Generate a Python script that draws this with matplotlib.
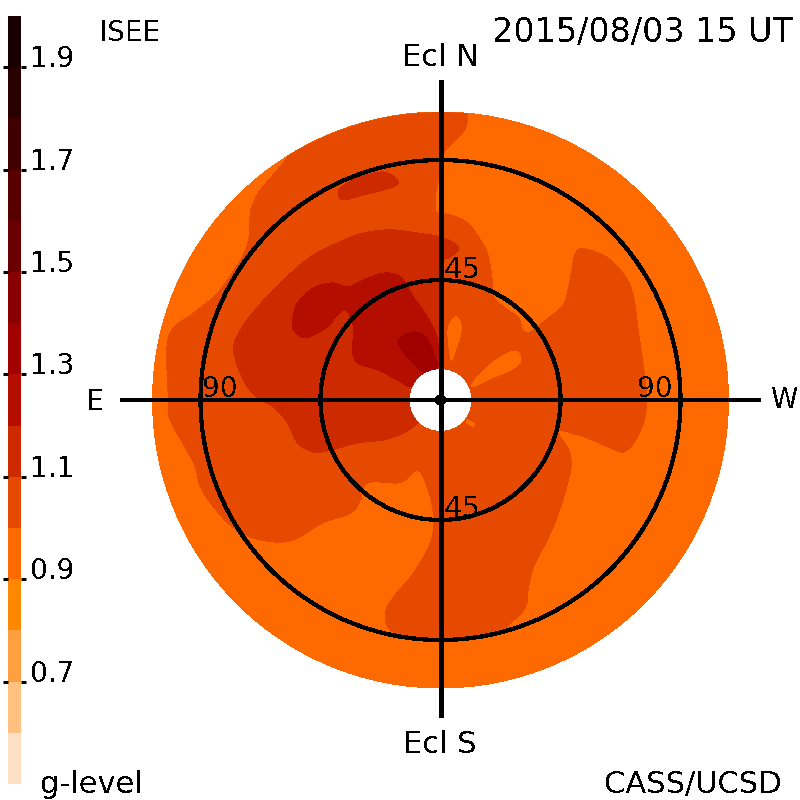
import numpy as np
import matplotlib
matplotlib.use('Agg')
import matplotlib.pyplot as plt
from matplotlib.patches import Circle, PathPatch
from matplotlib.path import Path
from matplotlib.colors import ListedColormap, BoundaryNorm

plt.rcParams['font.family'] = ['DejaVu Sans']
plt.rcParams['text.antialiased'] = False

# g-level scale
niveles = np.round(np.arange(0.5, 2.01, 0.1), 1)
colores = ['#ffe0c4', '#ffc080', '#ffa040', '#ff8800', '#ff6a00',
           '#e64a00', '#cd2a00', '#b40e00', '#a00000', '#880000',
           '#6a0000', '#580000', '#400000', '#280000', '#180000']
ticks_g = [0.7, 0.9, 1.1, 1.3, 1.5, 1.7, 1.9]

# sky map sizes, degrees of elongation
radio_mapa = 108
anillos = [45, 90]
radio_sol = 11.4
centro_mapa = 0.0

# level outlines, (degrees west, degrees north)
g_10_a = [(10.1, 112.5), (10.1, 107.6), (9.4, 102), (4.9, 96.8), (0.8, 91.9), (-0.8, 82.5),
          (-1.9, 76.9), (-1.9, 72.4), (-1.1, 70.1), (3.8, 69.4), (10.1, 66.4), (15, 60),
          (18, 53.6), (19.5, 43.9), (19.9, 38.6), (23.6, 34.9), (29.3, 30.8), (30.8, 26.3),
          (33.8, 25.5), (38.6, 29.3), (44.3, 33.8), (46.9, 37.5), (48.8, 46.1), (50.6, 55.1),
          (54.4, 56.6), (62.6, 53.3), (69.4, 46.1), (72.4, 38.6), (74.3, 25.1), (76.1, 12.4),
          (77.3, 0), (76.1, -8.6), (72.4, -16.1), (68.6, -19.5), (63.8, -18), (55.1, -14.3),
          (44.3, -11.6), (48, -18.8), (48.8, -26.3), (44.3, -42.4), (40.5, -51.4), (34.9, -62.6),
          (33, -70.1), (31.9, -77.6), (26.3, -83.6), (21.4, -87), (11.3, -89.3), (0, -89.3),
          (-8.6, -88.9), (-18.8, -86.3), (-20.6, -79.9), (-17.6, -73.9), (-10.1, -64.9),
          (-3.8, -53.6), (-2.6, -45), (-3.8, -36.4), (-6.8, -28.1), (-9.4, -26.6), (-12.4, -29.3),
          (-16.1, -31.1), (-27.4, -31.1), (-30, -37.5), (-33.8, -42.4), (-44.3, -46.1),
          (-53.6, -51.8), (-61.1, -53.3), (-71.3, -51.4), (-78.8, -46.9), (-85.1, -40.1),
          (-90, -32.6), (-92.6, -23.6), (-101.3, -7.5), (-102, 0), (-102, 23.6), (-92.6, 32.6),
          (-83.6, 40.1), (-75, 52.5), (-72, 60), (-71.3, 70.1), (-70.1, 73.9), (-67.5, 78.8),
          (-57.4, 91.1), (-52.5, 101.3), (-22.5, 112.5)]
g_09_b = [(5.6, 31.1), (7.5, 28.9), (7.5, 24.4), (5.6, 18.8), (4.1, 15), (3, 21.4), (3, 27.4)]
g_09_c = [(29.3, 17.6), (30, 14.3), (26.3, 11.3), (19.9, 8.6), (12, 4.9), (13.9, 8.6),
          (19.9, 14.3), (26.3, 18)]
g_09_d = [(10.1, -7.5), (12.8, -9), (12, -9.8), (9.8, -8.3)]
g_11_a = [(-77.6, 18.8), (-75, 26.3), (-68.6, 34.9), (-58.9, 45), (-48.8, 53.6), (-38.6, 58.9),
          (-28.9, 62.6), (-18.8, 63.8), (-8.6, 62.6), (0, 61.1), (6.8, 57.4), (3.8, 53.6),
          (0.8, 51.4), (0.4, 37.5), (0.4, 9.4), (0, 0), (-8.6, -8.6), (-13.9, -12.4),
          (-21.4, -15), (-31.1, -16.1), (-41.3, -18.8), (-47.6, -19.5), (-53.6, -16.1),
          (-57.4, -8.6), (-62.6, -2.6), (-68.6, 0.8), (-73.9, 7.5)]
g_11_b = [(-38.3, 76.9), (-37.5, 79.5), (-31.1, 83.3), (-21.4, 85.5), (-16.1, 82.5),
          (-17.6, 79.9), (-28.9, 76.9), (-36.4, 75)]
g_12 = [(-55.5, 30), (-53.6, 36.4), (-47.6, 42), (-40.5, 43.9), (-34.9, 42.4), (-28.9, 45),
        (-21.4, 47.6), (-15, 46.1), (-10.1, 38.6), (-4.9, 31.1), (-1.1, 22.5), (-1.1, 12.4),
        (-8.6, 8.6), (-11.3, 4.9), (-16.1, 7.5), (-23.6, 11.3), (-31.1, 13.9), (-33, 18.8),
        (-32.6, 27.4), (-35.6, 33.8), (-39.4, 31.1), (-42.4, 27.4), (-50.6, 23.3), (-55.1, 26.3)]
g_13 = [(-15.8, 22.5), (-10.1, 25.5), (-5.6, 23.6), (-2.6, 17.6), (-1.1, 12), (-6.4, 10.5),
        (-10.1, 13.9), (-13.9, 18)]

# drawing order, value is the bottom of the g-level band
regiones = [(1.0, g_10_a), (0.9, g_09_b), (0.9, g_09_c), (0.9, g_09_d),
            (1.1, g_11_a), (1.1, g_11_b), (1.2, g_12), (1.3, g_13)]


def contorno_suave(puntos):
    # closed bezier path through the outline points
    p = np.array(puntos, dtype=float)
    antes, despues = np.roll(p, 1, axis=0), np.roll(p, -1, axis=0)
    tangente = (despues - antes) / 6
    verts = [p[0]]
    codes = [Path.MOVETO]
    for i in range(len(p)):
        j = (i + 1) % len(p)
        verts += [p[i] + tangente[i], p[j] - tangente[j], p[j]]
        codes += [Path.CURVE4] * 3
    return Path(verts, codes, closed=False)


fig = plt.figure(figsize=(8, 8), dpi=100)

# Mapa: 240 px = 90 degrees
escala = 90 / 240
ax = fig.add_axes([0, 0, 1, 1])
ax.set_xlim(-440.5 * escala, 359.5 * escala)
ax.set_ylim(-400 * escala, 400 * escala)
ax.axis('off')

color_de = dict(zip(niveles[:-1], colores))
disco = Circle((0, 0), radio_mapa, fc=color_de[0.9], ec='none', antialiased=False, zorder=1)
ax.add_patch(disco)
for valor, contorno in regiones:
    p = PathPatch(contorno_suave(contorno), fc=color_de[valor], ec='none', antialiased=False, zorder=2)
    ax.add_patch(p)
    p.set_clip_path(disco)

for r in anillos:
    ax.add_patch(Circle((0, 0), r, fc='none', ec='black', lw=2.3, antialiased=False, zorder=3))
ax.add_patch(Circle((0, 0), radio_sol, fc='white', ec='none', antialiased=False, zorder=4))

ax.plot([-120, 120], [0, 0], color='black', lw=2.6, solid_capstyle='butt', antialiased=False, zorder=5)
ax.plot([0, 0], [-119, 120], color='black', lw=3.4, solid_capstyle='butt', antialiased=False, zorder=5)
ax.add_patch(Circle((centro_mapa, centro_mapa), 1.9, fc='black', ec='none', antialiased=False, zorder=6))

# Barra de colores
cax = fig.add_axes([8 / 800, 16 / 800, 13 / 800, 768 / 800])
cmap = ListedColormap(colores)
norm = BoundaryNorm(niveles, cmap.N)
cax.pcolormesh([0, 1], niveles, np.array(niveles[:-1]).reshape(-1, 1), cmap=cmap, norm=norm)
cax.set_xticks([])
cax.set_yticks(ticks_g)
cax.set_yticklabels([f'{t:.1f}' for t in ticks_g], fontsize=20, va='baseline')
cax.yaxis.set_ticks_position('both')
cax.tick_params(axis='y', length=3.8, width=2.2, direction='out', labelleft=False,
                labelright=True, pad=3)
for s in cax.spines.values():
    s.set_visible(False)


def etiqueta(x, y, texto, size=20, ha='left'):
    fig.text(x / 800, 1 - y / 800, texto, fontsize=size, ha=ha, va='baseline', color='black')


etiqueta(99, 41, 'ISEE')
etiqueta(793, 42, '2015/08/03 15 UT', size=24, ha='right')
etiqueta(440, 66, 'Ecl N', size=22, ha='center')
etiqueta(440, 753, 'Ecl S', size=22, ha='center')
etiqueta(86, 410, 'E')
etiqueta(771, 408, 'W')
etiqueta(202, 397, '90')
etiqueta(637, 397, '90')
etiqueta(444, 278, '45', size=21)
etiqueta(444, 517, '45', size=21)
etiqueta(40, 793, 'g-level', size=22)
etiqueta(782, 793, 'CASS/UCSD', size=22, ha='right')

fig.savefig('out.png', dpi=100)
